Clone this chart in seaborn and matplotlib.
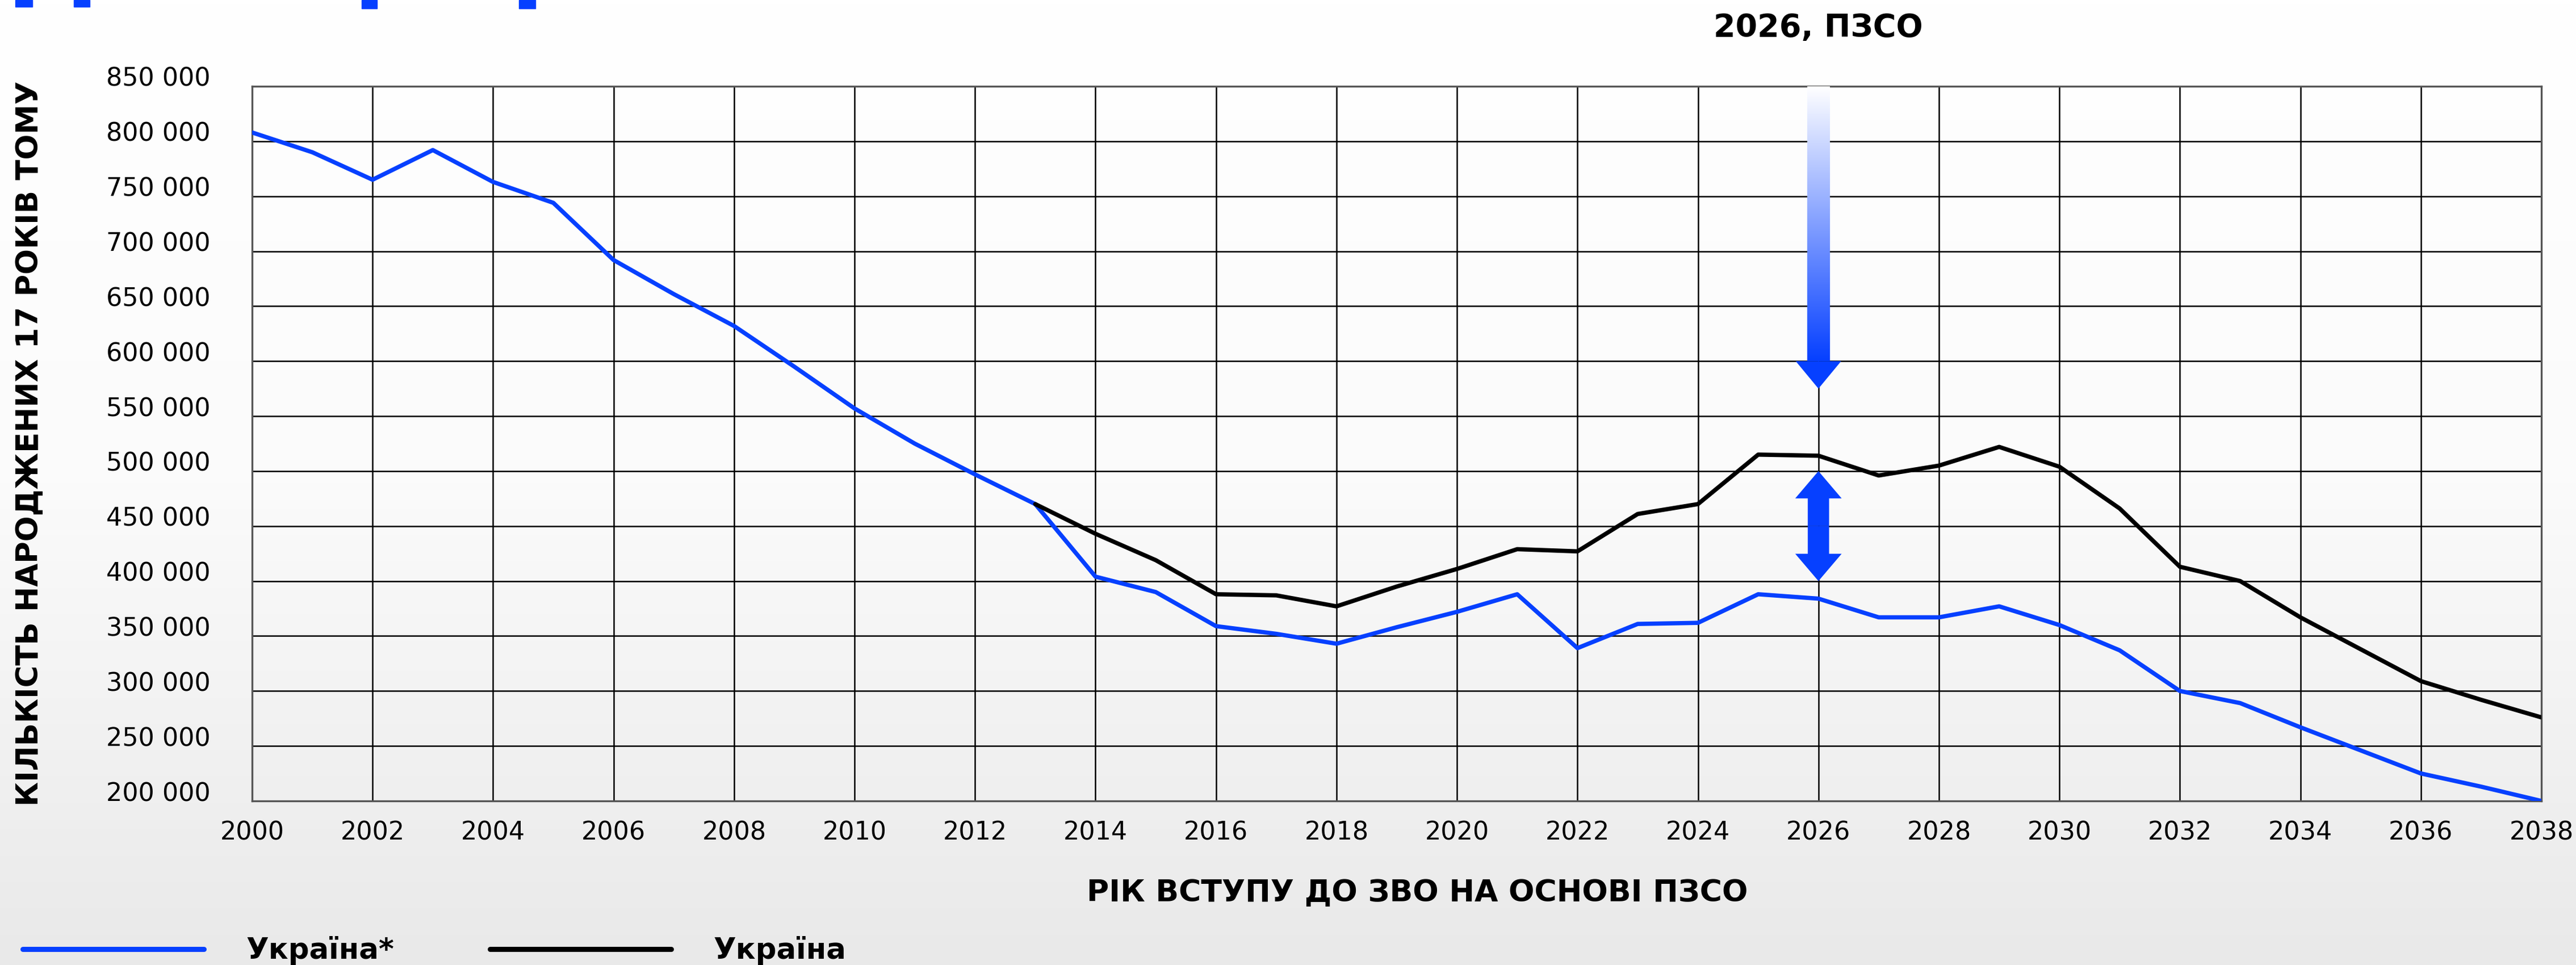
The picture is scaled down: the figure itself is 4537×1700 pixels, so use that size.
import numpy as np
import pandas as pd
import matplotlib
matplotlib.use("Agg")
import matplotlib.pyplot as plt
from matplotlib.colors import LinearSegmentedColormap
from matplotlib.lines import Line2D
from matplotlib.patches import FancyArrow, Rectangle
from matplotlib.ticker import FuncFormatter
import seaborn as sns

sns.set_style("white")
plt.rcParams["font.family"] = ["DejaVu Sans"]
plt.rcParams["text.color"] = "black"
plt.rcParams["axes.labelcolor"] = "black"

# --- data ---
years_star = list(range(2000, 2039))
ua_star = [808000, 790000, 765000, 792000, 763000, 744000, 692000, 661000, 632000, 595000,
           557000, 525000, 497000, 470000, 404000, 390000, 359000, 352000, 343000, 358000,
           372000, 388000, 339000, 361000, 362000, 388000, 384000, 367000, 367000, 377000,
           360000, 337000, 300000, 289000, 267000, 246000, 225000, 213000, 200000]

years_ua = list(range(2013, 2039))
ua = [470000, 443000, 419000, 388000, 387000, 377000, 395000, 411000, 429000, 427000,
      461000, 470000, 515000, 514000, 496000, 505000, 522000, 504000, 466000, 413000,
      400000, 367000, 338000, 309000, 292000, 276000]

series_names = ["Україна*", "Україна"]
series_colors = ["#0640ff", "#000000"]

x_ticks = list(range(2000, 2039, 2))
y_ticks = list(range(200000, 850001, 50000))

annot_year = 2026
annot_label = "2026, ПЗСО"
fade_top, fade_bottom, fade_tip = 850000, 600000, 575000
gap_low, gap_high = 400000, 500000

xlabel = "РІК ВСТУПУ ДО ЗВО НА ОСНОВІ ПЗСО"
ylabel = "КІЛЬКІСТЬ НАРОДЖЕНИХ 17 РОКІВ ТОМУ"

df = pd.concat([
    pd.DataFrame({"year": years_star, "value": ua_star, "series": series_names[0]}),
    pd.DataFrame({"year": years_ua, "value": ua, "series": series_names[1]}),
])
palette = dict(zip(series_names, series_colors))
BLUE = series_colors[0]

W, H = 4537, 1700
fig = plt.figure(figsize=(W / 100, H / 100), dpi=100)

# soft vertical background gradient (white at top, light grey at bottom)
bg = fig.add_axes([0, 0, 1, 1], zorder=-10)
bg_cmap = LinearSegmentedColormap.from_list("bg", ["#ffffff", "#fbfbfb", "#e9e9e9"])
bg.imshow(np.linspace(0, 1, 256).reshape(-1, 1), aspect="auto", cmap=bg_cmap,
          extent=[0, 1, 0, 1])
bg.axis("off")

# cut-off blue blocks along the top edge (pixels: x0, x1, height)
for x0, x1, h in [(27, 57, 12), (130, 158, 12), (637, 664, 15), (914, 943, 15)]:
    fig.patches.append(Rectangle((x0 / W, 1 - h / H), (x1 - x0) / W, h / H,
                                 transform=fig.transFigure, color=BLUE, zorder=5))

ax = fig.add_axes([444 / W, 1 - 1411 / H, (4476 - 444) / W, (1411 - 152) / H])
ax.set_facecolor("none")

sns.lineplot(data=df, x="year", y="value", hue="series", palette=palette,
             ax=ax, legend=False, zorder=4)
for ln in ax.get_lines():
    ln.set_linewidth(5.4)
    ln.set_solid_joinstyle("round")
    ln.set_solid_capstyle("round")

# fading arrow pointing down at 2026
fade = LinearSegmentedColormap.from_list("fade", ["#ffffff", BLUE])
ax.imshow(np.linspace(0, 1, 256).reshape(-1, 1), cmap=fade, aspect="auto",
          extent=[annot_year - 0.184, annot_year + 0.184, fade_bottom, fade_top],
          origin="upper", zorder=3)
ax.add_patch(FancyArrow(annot_year, fade_bottom + 500, 0, fade_tip - fade_bottom - 500,
                        width=0.01, head_width=0.754, head_length=fade_bottom - fade_tip,
                        length_includes_head=True, color=BLUE, lw=0, zorder=3))

# double-headed gap arrow
mid = (gap_low + gap_high) / 2
for end in (gap_low, gap_high):
    ax.add_patch(FancyArrow(annot_year, mid, 0, end - mid, width=0.354,
                            head_width=0.77, head_length=24800,
                            length_includes_head=True, color=BLUE, lw=0, zorder=3))

ax.set_xlim(x_ticks[0], x_ticks[-1])
ax.set_ylim(y_ticks[0], y_ticks[-1])
ax.set_xticks(x_ticks)
ax.set_yticks(y_ticks)
ax.yaxis.set_major_formatter(FuncFormatter(lambda v, p: f"{v:,.0f}".replace(",", " ")))
ax.grid(True, color="black", linewidth=1.8)
ax.set_axisbelow(True)
ax.tick_params(axis="both", length=0, labelsize=32, colors="black")
ax.tick_params(axis="y", pad=53)
ax.tick_params(axis="x", pad=25)
for lbl in ax.get_yticklabels():
    lbl.set_va("baseline")
for side in ax.spines.values():
    side.set_visible(True)
    side.set_color("#555555")
    side.set_linewidth(2.4)

ax.set_xlabel(xlabel, fontsize=38.5, fontweight="bold", va="center")
ax.xaxis.set_label_coords((2496 - 444) / 4032, (1411 - 1573) / 1259)
ax.set_ylabel(ylabel, fontsize=38, fontweight="bold", va="center")
ax.yaxis.set_label_coords((52 - 444) / 4032, 0.5)

fig.text(3202 / W, 1 - 49 / H, annot_label, fontsize=40, fontweight="bold",
         ha="center", va="center")

handles = [Line2D([0], [0], color=c, lw=6.5, solid_capstyle="round") for c in series_colors]
fig.legend(handles, series_names, loc="center left", bbox_to_anchor=(40 / W, 1 - 1675 / H),
           ncol=2, frameon=False, prop={"size": 37, "weight": "bold"},
           handlelength=6.2, handletextpad=1.45, columnspacing=3.3,
           borderpad=0, borderaxespad=0)

fig.savefig("out.png", dpi=100)
